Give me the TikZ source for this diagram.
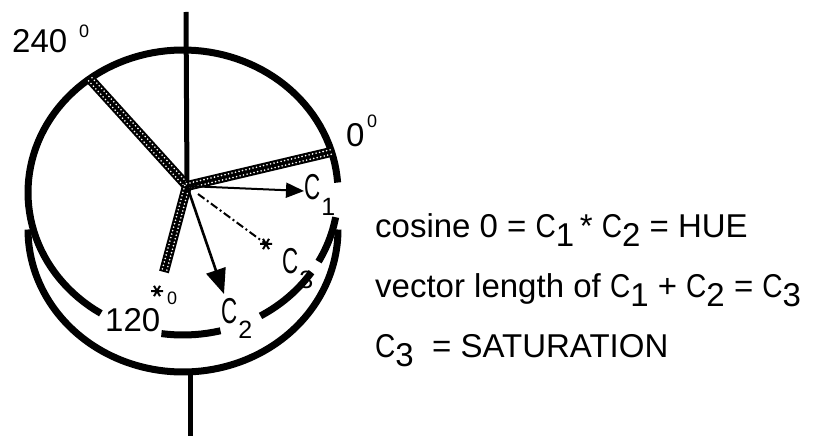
\documentclass[tikz,border=0pt]{standalone}
\usepackage{fontspec}
\setmainfont{Liberation Sans}
\usetikzlibrary{arrows.meta,calc}
\newcommand\Cx{\scalebox{0.85}[1]{C}}
\newcommand\sbx[1]{\raisebox{-0.3em}{#1}}
\newcommand\clab[1]{\scalebox{0.62}[1]{C}\kern1pt\raisebox{-0.42em}{\fontsize{25}{27}\selectfont #1}}
\tikzset{
  astmark/.pic={\draw[line width=2pt] (-6,0)--(6,0) (-3,-5.2)--(3,5.2) (-3,5.2)--(3,-5.2);},
}
\begin{document}
\begin{tikzpicture}[x=1pt,y=-1pt,
  rim/.style={line width=7pt},
  axisline/.style={line width=5pt},
  spokeline/.style={line width=10pt, black},
  holes/.style={white, line width=1.8pt, line cap=round, dash pattern=on 0pt off 3.6pt},
  lbl/.style={font=\fontsize{33}{35}\selectfont, inner sep=0pt, anchor=base west},
  sup/.style={font=\fontsize{18}{20}\selectfont, inner sep=0pt, anchor=base west},
  clbl/.style={font=\fontsize{36}{38}\selectfont, inner sep=0pt, anchor=base west},
  txt/.style={font=\fontsize{33}{35}\selectfont, inner sep=0pt, anchor=base west}]
\useasboundingbox (0,0) rectangle (813,438);

% axis
\coordinate (axtop) at (186,12);
\coordinate (o) at (187,186);
\coordinate (axb1) at (190,371);
\coordinate (axb2) at (190,436);
\draw[axisline] (axtop) -- (o);
\draw[axisline] (axb1) -- (axb2);

% rims
\draw[rim] plot[domain=4:238,samples=90] ({183+155*cos(\x)},{192.5-142.5*sin(\x)});
\draw[rim] plot[domain=262:284,samples=10] ({183+155*cos(\x)},{192.5-142.5*sin(\x)});
\draw[rim] plot[domain=300:326,samples=20] ({183+155*cos(\x)},{192.5-142.5*sin(\x)});
\draw[rim] plot[domain=331:350,samples=12] ({183+155*cos(\x)},{192.5-142.5*sin(\x)});
\draw[rim] plot[domain=180:360,samples=90] ({183+155*cos(\x)},{229.5-142.5*sin(\x)});

% spokes
\coordinate (s240) at (90,79);
\coordinate (s0) at (331,152);
\coordinate (s120) at (164,272);
\foreach \e in {s240,s0,s120}{
  \draw[spokeline] (o) -- (\e);
  \draw[holes] ($(o)!2.3pt!90:(\e)$) -- ($(\e)!2.3pt!-90:(o)$);
  \draw[holes] ($(o)!2.3pt!-90:(\e)$) -- ($(\e)!2.3pt!90:(o)$);
}

% vectors
\coordinate (t1) at (304,191);
\draw[line width=2pt, -{Triangle[length=18pt,width=15pt]}] (o) -- (t1);
\coordinate (t2) at (224,294);
\draw[line width=2.6pt, -{Triangle[length=25pt,width=20pt]}] (o) -- (t2);
\coordinate (c3s) at (198,194);
\coordinate (t3) at (266,244);
\draw[line width=2pt, dash pattern=on 8pt off 3pt on 2pt off 3pt] (c3s) -- (t3);
\pic at (t3) {astmark};
\coordinate (a120) at (157,291);
\pic at (a120) {astmark};

% angle labels
\node[lbl] (l240) at (12,53) {240};
\node[sup] (l240d) at (79,38) {0};
\node[lbl] (l0) at (346,147) {0};
\node[sup] (l0d) at (367,128) {0};
\node[lbl] (l120) at (105,331) {120};
\node[sup] (l120d) at (167,304) {0};

% vector labels
\node[clbl] (lc1) at (304,200) {\clab{1}};
\node[clbl] (lc2) at (221,323) {\clab{2}};
\node[clbl] (lc3) at (282,273) {\clab{3}};

% text
\node[txt] (h1) at (375,237) {cosine 0 = \Cx\sbx{1}\,* \Cx\sbx{2} = HUE};
\node[txt] (h2) at (375,297) {vector length of\ \Cx\sbx{1} + \Cx\sbx{2} = \Cx\sbx{3}};
\node[txt] (h3) at (375,357) {\Cx\sbx{3}\ \ = SATURATION};
\end{tikzpicture}
\end{document}
